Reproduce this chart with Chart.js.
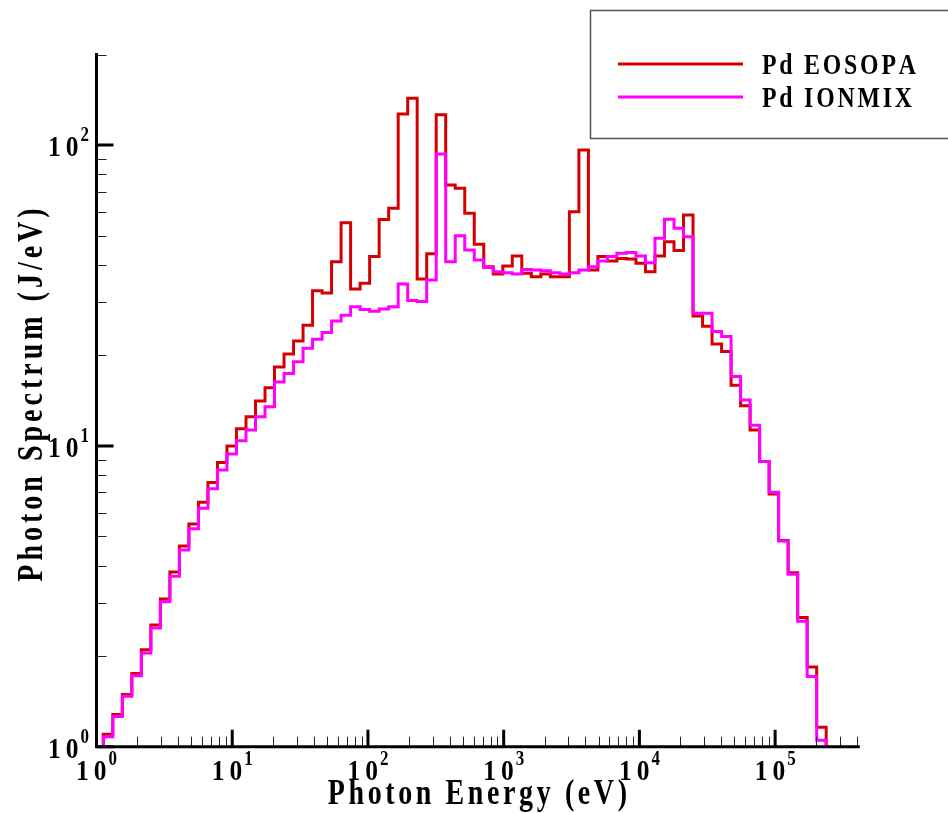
<!DOCTYPE html>
<html>
<head>
<meta charset="utf-8">
<script src="https://cdn.jsdelivr.net/npm/chart.js@4.4.1/dist/chart.umd.min.js"></script>
<style>
  html, body { margin: 0; padding: 0; background: #fff; }
</style>
</head>
<body>
<canvas id="spectrum" width="948" height="813"></canvas>
<script>
// photon energy group boundaries (eV)
const binEdges = [
    1.122, 1.319, 1.550, 1.821, 2.140, 2.515, 2.955, 3.473, 4.081, 4.795,
    5.635, 6.622, 7.782, 9.144, 10.74, 12.63, 14.84, 17.44, 20.49, 24.08,
    28.30, 33.25, 39.07, 45.91, 53.95, 63.40, 74.50, 87.54, 102.9, 120.9,
    142.1, 167.0, 196.2, 230.5, 270.9, 318.3, 374.1, 439.6, 516.6, 607.0,
    713.3, 838.2, 985.1, 1157, 1360, 1598, 1878, 2207, 2594, 3048,
    3582, 4210, 4946, 5811, 6829, 8025, 9432, 11085, 13025, 15305,
    17985, 21135, 24840, 29185, 34295, 40305, 47365, 55660, 65400, 76860,
    90320, 106100, 124700, 146600, 172200, 202400, 237800,
];

// Pd EOSOPA spectrum (J/eV), one value per group
const eosopa = [
    1.10, 1.28, 1.49, 1.75, 2.10, 2.54, 3.10, 3.81, 4.65, 5.50,
    6.50, 7.55, 8.80, 10.0, 11.4, 12.5, 14.1, 15.6, 18.3, 20.2,
    22.3, 25.2, 32.8, 32.2, 40.9, 55.2, 33.2, 34.7, 42.6, 56.6,
    61.6, 126.9, 143, 35.9, 43.5, 126, 73.7, 71.8, 59.3, 46.8,
    39.4, 37.3, 39.6, 42.8, 37.5, 36.5, 37.3, 36.5, 36.5, 60.0,
    96.3, 38.4, 42.6, 41.2, 42.0, 41.8, 40.5, 37.9, 42.8, 47.7,
    44.6, 58.6, 27.0, 25.0, 21.8, 20.6, 15.9, 13.6, 11.3, 8.88,
    6.92, 4.85, 3.79, 2.69, 1.84, 1.16,
];

// Pd IONMIX spectrum (J/eV)
const ionmix = [
    1.08, 1.26, 1.47, 1.72, 2.05, 2.48, 3.03, 3.69, 4.51, 5.30,
    6.20, 7.20, 8.32, 9.40, 10.4, 11.3, 12.5, 13.5, 16.3, 17.4,
    19.05, 21.1, 22.6, 23.8, 26.0, 27.2, 29.0, 28.4, 28.0, 28.5,
    29.0, 34.5, 30.4, 30.2, 35.6, 93.4, 40.9, 49.9, 44.8, 41.5,
    39.2, 37.9, 37.6, 37.3, 38.6, 38.4, 38.2, 37.6, 37.3, 37.6,
    38.4, 39.4, 41.2, 42.6, 43.7, 43.9, 42.8, 40.6, 49.0, 56.7,
    52.9, 49.6, 27.6, 27.6, 24.0, 23.1, 17.0, 14.2, 11.7, 8.88,
    7.01, 4.83, 3.74, 2.61, 1.71, 1.05,
];

const xDecades = [0, 1, 2, 3, 4, 5];
const yDecades = [0, 1, 2];
const seriesNames = ["Pd EOSOPA", "Pd IONMIX"];
const seriesColors = ["#d40000", "#ff00ff"];

const X_MIN = 1, X_MAX = 4.1e5;
const Y_MIN = 1, Y_MAX = 200;

const FONT = '"Liberation Serif", "Times New Roman", serif';

// histogram -> step outline, starting and ending on the x axis
const toSteps = (vals) => {
    const pts = [{ x: binEdges[0], y: Y_MIN }];
    vals.forEach((v, i) => pts.push({ x: binEdges[i + 1], y: v }));
    pts.push({ x: binEdges[binEdges.length - 1], y: Y_MIN });
    return pts;
};

// tecplot-ish text: narrow tall glyphs with extra spacing
function spacedText(ctx, text, x, y, size, align, sx = 0.9, gap = 3) {
    ctx.font = `bold ${size}px ${FONT}`;
    const chars = [...text];
    const widths = chars.map((c) => ctx.measureText(c).width * sx);
    const total = widths.reduce((a, b) => a + b, 0) + gap * (chars.length - 1);
    let cx = align === "center" ? x - total / 2 : align === "right" ? x - total : x;
    ctx.textAlign = "left";
    ctx.textBaseline = "alphabetic";
    chars.forEach((c, i) => {
        ctx.save();
        ctx.translate(cx, y);
        ctx.scale(sx, 1);
        ctx.fillText(c, 0, 0);
        ctx.restore();
        cx += widths[i] + gap;
    });
    return total;
}

const DIGIT = { size: 30, sx: 0.85, gap: 5 };
const EXPO = { size: 20, sx: 0.85, rise: 15 };

function powerLabelWidth(ctx, exp) {
    ctx.font = `bold ${DIGIT.size}px ${FONT}`;
    const base = (ctx.measureText("1").width + ctx.measureText("0").width) * DIGIT.sx + DIGIT.gap;
    ctx.font = `bold ${EXPO.size}px ${FONT}`;
    return base + 2 + ctx.measureText(String(exp)).width * EXPO.sx;
}

function powerLabel(ctx, exp, left, baseline) {
    const w = spacedText(ctx, "10", left, baseline, DIGIT.size, "left", DIGIT.sx, DIGIT.gap);
    spacedText(ctx, String(exp), left + w + 2, baseline - EXPO.rise, EXPO.size, "left", EXPO.sx, 0);
}

const axesPlugin = {
    id: "tecplotAxes",
    afterDatasetsDraw(chart) {
        const { ctx } = chart;
        const xs = chart.scales.x;
        const ys = chart.scales.y;
        const left = xs.getPixelForValue(X_MIN);
        const right = xs.getPixelForValue(X_MAX);
        const bottom = ys.getPixelForValue(Y_MIN);
        const top = ys.getPixelForValue(Y_MAX);

        ctx.save();
        ctx.fillStyle = "#000";

        // minor ticks
        ctx.strokeStyle = "#222";
        ctx.lineWidth = 1;
        ctx.beginPath();
        xDecades.forEach((p) => {
            for (let k = 2; k <= 9; k++) {
                const v = k * Math.pow(10, p);
                if (v > X_MAX) break;
                const px = Math.round(xs.getPixelForValue(v)) + 0.5;
                ctx.moveTo(px, bottom);
                ctx.lineTo(px, bottom - 10);
            }
        });
        yDecades.forEach((p) => {
            for (let k = 2; k <= 9; k++) {
                const v = k * Math.pow(10, p);
                if (v > Y_MAX) break;
                const py = Math.round(ys.getPixelForValue(v)) + 0.5;
                ctx.moveTo(left, py);
                ctx.lineTo(left + 10, py);
            }
        });
        ctx.stroke();

        // major ticks
        ctx.strokeStyle = "#000";
        ctx.lineWidth = 3;
        ctx.beginPath();
        xDecades.forEach((p) => {
            const px = xs.getPixelForValue(Math.pow(10, p));
            ctx.moveTo(px, bottom);
            ctx.lineTo(px, bottom - 17);
        });
        yDecades.forEach((p) => {
            const py = ys.getPixelForValue(Math.pow(10, p));
            ctx.moveTo(left, py);
            ctx.lineTo(left + 17, py);
        });
        ctx.stroke();

        // axis lines
        ctx.lineWidth = 3;
        ctx.lineCap = "square";
        ctx.beginPath();
        ctx.moveTo(left, top);
        ctx.lineTo(left, bottom);
        ctx.lineTo(right, bottom);
        ctx.stroke();

        // tick labels
        xDecades.forEach((p) => {
            const px = xs.getPixelForValue(Math.pow(10, p));
            const w = powerLabelWidth(ctx, p);
            powerLabel(ctx, p, px - w / 2, bottom + 33);
        });
        yDecades.forEach((p) => {
            const py = ys.getPixelForValue(Math.pow(10, p));
            const w = powerLabelWidth(ctx, p);
            powerLabel(ctx, p, 89 - w, py + 11);
        });

        // axis titles
        spacedText(ctx, "Photon Energy (eV)", (left + right) / 2, 804, 35, "center", 0.8, 3.6);
        ctx.save();
        ctx.translate(42, 395);
        ctx.rotate(-Math.PI / 2);
        spacedText(ctx, "Photon Spectrum (J/eV)", 0, 0, 35, "center", 0.8, 4.0);
        ctx.restore();

        // legend box
        ctx.strokeStyle = "#555";
        ctx.lineWidth = 1.5;
        ctx.strokeRect(590.5, 10.5, 400, 128);
        seriesNames.forEach((name, i) => {
            const ly = 64 + i * 33;
            ctx.strokeStyle = seriesColors[i];
            ctx.lineWidth = 3;
            ctx.lineCap = "butt";
            ctx.beginPath();
            ctx.moveTo(618, ly);
            ctx.lineTo(743, ly);
            ctx.stroke();
            ctx.fillStyle = "#000";
            spacedText(ctx, name, 762, ly + 10, 29, "left", 0.82, 2.8);
        });

        ctx.restore();
    },
};

const ctx = document.getElementById("spectrum");

new Chart(ctx, {
    type: "line",
    data: {
        datasets: [
            {
                label: seriesNames[0],
                data: toSteps(eosopa),
                borderColor: seriesColors[0],
                borderWidth: 3,
                stepped: "after",
                pointRadius: 0,
                fill: false,
                borderJoinStyle: "miter",
                order: 2,
            },
            {
                label: seriesNames[1],
                data: toSteps(ionmix),
                borderColor: seriesColors[1],
                borderWidth: 3,
                stepped: "after",
                pointRadius: 0,
                fill: false,
                borderJoinStyle: "miter",
                order: 1,
            },
        ],
    },
    options: {
        responsive: false,
        animation: false,
        layout: {
            padding: { left: 96.5, right: 89.7, top: 54.5, bottom: 66.3 },
        },
        scales: {
            x: { type: "logarithmic", min: X_MIN, max: X_MAX, display: false },
            y: { type: "logarithmic", min: Y_MIN, max: Y_MAX, display: false },
        },
        plugins: {
            legend: { display: false },
            tooltip: { enabled: false },
        },
    },
    plugins: [axesPlugin],
});
</script>
</body>
</html>
